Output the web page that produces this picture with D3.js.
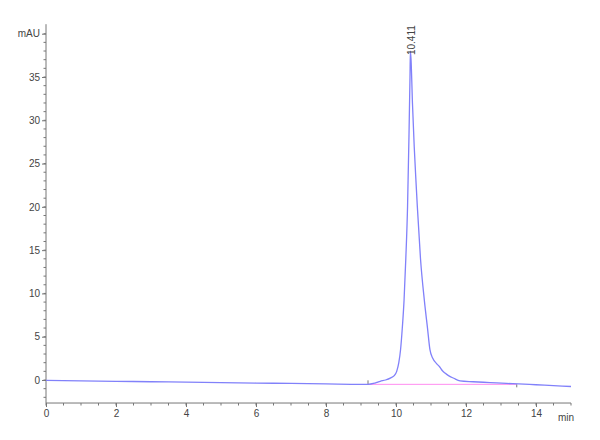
<!DOCTYPE html>
<html>
<head>
  <style>
    body { margin: 0; background: #fff; }
    .axis text { font-family: "Liberation Sans Narrow", "Liberation Sans", Arial, sans-serif; font-size: 10px; fill: #444; }
    .axis path, .axis line { stroke: #777; }
    .trace { fill: none; stroke: #8181fa; stroke-width: 1.3; }
  </style>
</head>
<body>
<svg id="chart" width="600" height="440"></svg>
<script src="https://d3js.org/d3.v7.min.js"></script>
<script>
  // retention time (min) and absorbance (mAU)
  const times = [0, 1, 2, 3, 4, 5, 6, 7, 8, 9, 9.2, 9.4, 9.55, 9.7, 9.85, 9.95, 10.02, 10.08, 10.13, 10.18,
    10.23, 10.28, 10.33, 10.37, 10.40, 10.411, 10.43, 10.47, 10.52, 10.57, 10.61, 10.7, 10.81, 10.9, 10.97,
    11.05, 11.16, 11.25, 11.32, 11.4, 11.5, 11.65, 11.83, 12.2, 12.69, 13.16, 13.5, 14, 14.5, 15];
  const signal = [-0.05, -0.1, -0.15, -0.2, -0.25, -0.3, -0.35, -0.4, -0.45, -0.5, -0.5, -0.35, -0.15, 0.0, 0.25, 0.5, 1.0, 2.0, 3.5, 6.0,
    9.2, 14, 20, 28, 35, 38, 37, 32, 27, 23, 20, 14, 9.2, 6, 3.5,
    2.5, 1.9, 1.5, 1.1, 0.8, 0.5, 0.2, -0.1, -0.2, -0.3, -0.4, -0.45, -0.55, -0.65, -0.75];

  const xTicks = [0, 2, 4, 6, 8, 10, 12, 14];
  const yTicks = [0, 5, 10, 15, 20, 25, 30, 35, 40];
  const peakTime = 10.411, peakHeight = 38, peakLabel = "10.411";
  const baseStart = [9.2, -0.5], baseEnd = [13.45, -0.5];

  const svg = d3.select("#chart");
  const x = d3.scaleLinear().domain([0, 15]).range([46, 571]);
  const y = d3.scaleLinear().domain([0, 35]).range([380, 77]);
  const yBottom = y(-2.66), yTop = y(41.1);

  // x axis
  const gx = svg.append("g").attr("class", "axis")
    .attr("transform", `translate(0,${yBottom})`);
  gx.append("line").attr("x1", x(0)).attr("x2", x(15)).attr("y1", 0).attr("y2", 0);
  gx.selectAll(".minor").data(d3.range(0, 15.01, 0.5)).join("line")
    .attr("x1", d => x(d)).attr("x2", d => x(d)).attr("y1", 0).attr("y2", 2.5);
  gx.call(d3.axisBottom(x).tickValues(xTicks).tickSize(4).tickPadding(3).tickFormat(d3.format("d")));
  gx.select(".domain").remove();
  gx.append("text").attr("x", x(15) - 5).attr("y", 11).attr("dy", "0.71em")
    .attr("text-anchor", "middle").text("min");

  // y axis
  const gy = svg.append("g").attr("class", "axis")
    .attr("transform", `translate(${x(0)},0)`);
  gy.append("line").attr("x1", 0).attr("x2", 0).attr("y1", yTop).attr("y2", yBottom);
  gy.selectAll(".minor").data(d3.range(-2, 41, 1)).join("line")
    .attr("x1", -2.5).attr("x2", 0).attr("y1", d => y(d)).attr("y2", d => y(d));
  gy.call(d3.axisLeft(y).tickValues(yTicks).tickSize(4).tickPadding(2)
    .tickFormat(d => d === 40 ? "mAU" : d));
  gy.select(".domain").remove();

  // integration baseline
  svg.append("line")
    .attr("x1", x(baseStart[0])).attr("y1", y(baseStart[1]))
    .attr("x2", x(baseEnd[0])).attr("y2", y(baseEnd[1]))
    .attr("stroke", "#ff8cf0").attr("stroke-width", 1);
  svg.append("line")
    .attr("x1", x(baseStart[0])).attr("x2", x(baseStart[0]))
    .attr("y1", y(baseStart[1]) - 4).attr("y2", y(baseStart[1]))
    .attr("stroke", "#777");
  svg.append("line")
    .attr("x1", x(baseEnd[0])).attr("x2", x(baseEnd[0]))
    .attr("y1", y(baseEnd[1])).attr("y2", y(baseEnd[1]) + 3)
    .attr("stroke", "#777");

  // trace
  const pts = times.map((t, i) => [t, signal[i]]);
  svg.append("path").datum(pts).attr("class", "trace")
    .attr("d", d3.line().x(d => x(d[0])).y(d => y(d[1])).curve(d3.curveMonotoneX));

  // peak label
  svg.append("text")
    .attr("transform", `translate(${x(peakTime) + 1},${y(peakHeight) + 4}) rotate(-90)`)
    .attr("dy", "0.35em")
    .style("font-family", "'Liberation Sans Narrow', 'Liberation Sans', Arial, sans-serif")
    .style("font-size", "10px").style("fill", "#444")
    .text(peakLabel);
</script>
</body>
</html>
